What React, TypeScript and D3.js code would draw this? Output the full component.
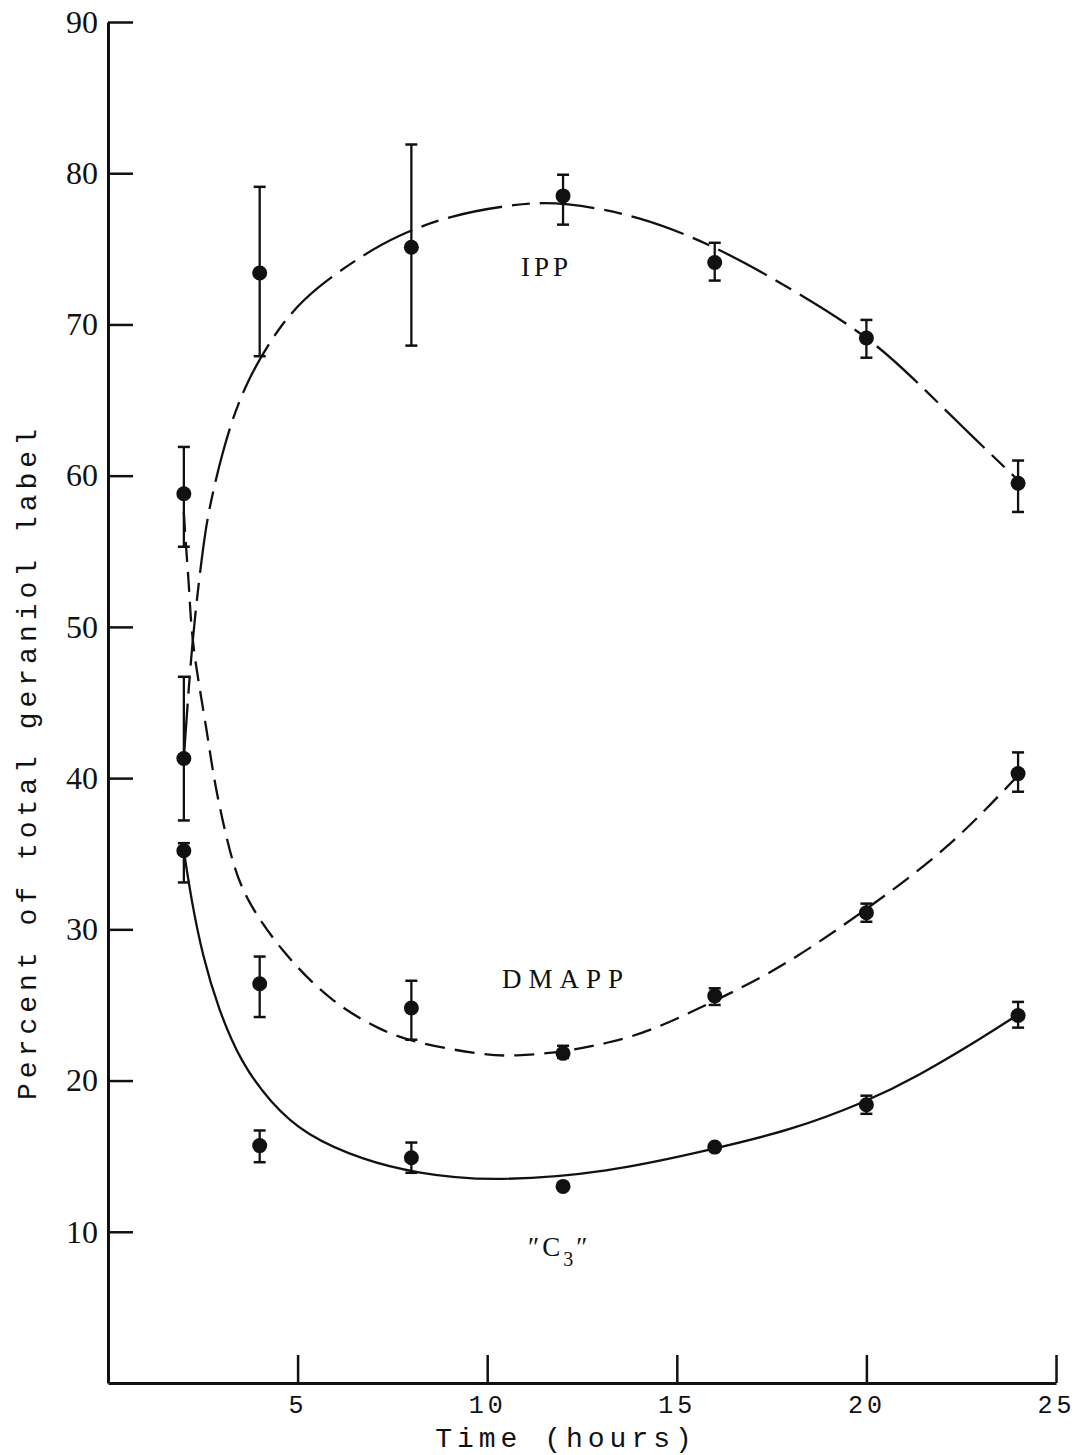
import React, { useEffect, useRef } from "react";
import * as d3 from "d3";

// sampling times (hours)
const hours = [2, 4, 8, 12, 16, 20, 24];

// measured points with error bars (percent of total geraniol label)
const ippMean = [41.3, 73.4, 75.1, 78.5, 74.1, 69.1, 59.5];
const ippLow = [37.2, 67.9, 68.6, 76.6, 72.9, 67.8, 57.6];
const ippHigh = [46.7, 79.1, 81.9, 79.9, 75.4, 70.3, 61.0];

const dmappMean = [58.8, 26.4, 24.8, 21.8, 25.6, 31.1, 40.3];
const dmappLow = [55.3, 24.2, 22.7, 21.5, 25.0, 30.5, 39.1];
const dmappHigh = [61.9, 28.2, 26.6, 22.3, 26.1, 31.7, 41.7];

const c3Mean = [35.2, 15.7, 14.9, 13.0, 15.6, 18.4, 24.3];
const c3Low = [33.1, 14.6, 13.9, 13.0, 15.6, 17.8, 23.5];
const c3High = [35.7, 16.7, 15.9, 13.0, 15.6, 19.0, 25.2];

// hand-drawn fitted curves
const ippCurveT = [2.0, 2.22, 2.49, 2.62, 3.0, 3.54, 4.55, 5.5, 6.8, 7.57, 8.97, 10.8, 12.0, 14.0, 16.0, 18.0, 20.0, 21.3, 22.5, 24.0];
const ippCurveV = [41.3, 49.3, 54.9, 57.3, 61.5, 65.8, 70.1, 72.5, 74.7, 75.8, 77.2, 78.0, 78.1, 77.2, 75.2, 72.4, 69.3, 66.3, 63.3, 59.7];

const dmappCurveT = [2.0, 2.04, 2.14, 2.17, 2.27, 2.62, 2.8, 3.23, 3.6, 4.55, 5.87, 7.2, 8.1, 9.85, 10.7, 12.06, 13.2, 14.26, 16.03, 17.8, 20.0, 22.2, 23.97];
const dmappCurveV = [57.6, 55.9, 52.6, 50.9, 48.0, 43.0, 39.7, 34.8, 32.1, 28.6, 25.2, 23.3, 22.5, 21.7, 21.6, 21.9, 22.5, 23.2, 25.3, 27.5, 31.3, 35.4, 40.1];

const c3CurveT = [2.0, 2.2, 2.5, 2.9, 3.5, 4.3, 5.2, 6.77, 8.1, 10.0, 13.2, 16.0, 18.0, 20.0, 21.3, 23.1, 23.9];
const c3CurveV = [35.2, 31.9, 28.2, 24.8, 21.2, 18.5, 16.4, 14.7, 13.9, 13.3, 13.9, 15.5, 16.7, 18.6, 20.2, 22.9, 24.2];

const xTicks = [5, 10, 15, 20, 25];
const yTicks = [10, 20, 30, 40, 50, 60, 70, 80, 90];

const ink = "#111";

const App = () => {
  const chartRef = useRef<SVGSVGElement>(null);

  useEffect(() => {
    drawChart();
  }, []);

  const drawChart = () => {
    const svg = d3.select(chartRef.current);
    svg.selectAll("*").remove();

    const x = d3.scaleLinear().domain([0, 25]).range([108, 1056]);
    const y = d3.scaleLinear().domain([0, 90]).range([1383, 22]);

    // y axis, ticks pointing inward
    const yAxis = svg
      .append("g")
      .attr("transform", "translate(108,0)")
      .call(d3.axisLeft(y).tickValues(yTicks).tickSize(-25).tickSizeOuter(0).tickPadding(10));
    yAxis.select(".domain").attr("stroke", ink).attr("stroke-width", 3);
    yAxis.selectAll(".tick line").attr("stroke", ink).attr("stroke-width", 2.5);
    yAxis
      .selectAll(".tick text")
      .attr("fill", ink)
      .attr("font-family", "'Liberation Serif', serif")
      .attr("font-size", 32);

    // x axis
    const xAxis = svg
      .append("g")
      .attr("transform", "translate(0,1383)")
      .call(d3.axisBottom(x).tickValues(xTicks).tickSize(-28).tickSizeOuter(0).tickPadding(12));
    xAxis.select(".domain").attr("stroke", ink).attr("stroke-width", 3);
    xAxis.selectAll(".tick line").attr("stroke", ink).attr("stroke-width", 2.5);
    xAxis
      .selectAll(".tick text")
      .attr("fill", ink)
      .attr("font-family", "'Liberation Mono', monospace")
      .attr("font-size", 25)
      .attr("letter-spacing", 4);

    // axis titles
    svg
      .append("text")
      .attr("x", 566)
      .attr("y", 1447)
      .attr("text-anchor", "middle")
      .attr("font-family", "'Liberation Mono', monospace")
      .attr("font-size", 28)
      .attr("letter-spacing", 5)
      .attr("fill", ink)
      .text("Time (hours)");

    svg
      .append("text")
      .attr("transform", "translate(36,762) rotate(-90)")
      .attr("text-anchor", "middle")
      .attr("font-family", "'Liberation Mono', monospace")
      .attr("font-size", 28)
      .attr("letter-spacing", 5)
      .attr("fill", ink)
      .text("Percent of total geraniol label");

    const line = d3
      .line<[number, number]>()
      .x((d) => x(d[0]))
      .y((d) => y(d[1]))
      .curve(d3.curveBasis);

    const curves = [
      { t: ippCurveT, v: ippCurveV, dash: "55,10,18,10" },
      { t: dmappCurveT, v: dmappCurveV, dash: "20,10" },
      { t: c3CurveT, v: c3CurveV, dash: null },
    ];

    curves.forEach((c) => {
      const pts = c.t.map((t, i) => [t, c.v[i]] as [number, number]);
      svg
        .append("path")
        .datum(pts)
        .attr("fill", "none")
        .attr("stroke", ink)
        .attr("stroke-width", 2.3)
        .attr("stroke-dasharray", c.dash)
        .attr("d", line);
    });

    const series = [
      { mean: ippMean, low: ippLow, high: ippHigh },
      { mean: dmappMean, low: dmappLow, high: dmappHigh },
      { mean: c3Mean, low: c3Low, high: c3High },
    ];

    series.forEach((s) => {
      const g = svg.append("g");
      hours.forEach((h, i) => {
        if (s.high[i] - s.low[i] > 0.01) {
          g.append("line")
            .attr("x1", x(h))
            .attr("x2", x(h))
            .attr("y1", y(s.low[i]))
            .attr("y2", y(s.high[i]))
            .attr("stroke", ink)
            .attr("stroke-width", 2.3);
          [s.low[i], s.high[i]].forEach((v) => {
            g.append("line")
              .attr("x1", x(h) - 6)
              .attr("x2", x(h) + 6)
              .attr("y1", y(v))
              .attr("y2", y(v))
              .attr("stroke", ink)
              .attr("stroke-width", 2.5);
          });
        }
        g.append("circle")
          .attr("cx", x(h))
          .attr("cy", y(s.mean[i]))
          .attr("r", 7.5)
          .attr("fill", ink);
      });
    });

    // curve labels
    const labelFont = "'Liberation Serif', serif";
    svg
      .append("text")
      .attr("x", 521)
      .attr("y", 276)
      .attr("font-family", labelFont)
      .attr("font-size", 27)
      .attr("letter-spacing", 4)
      .attr("fill", ink)
      .text("IPP");

    svg
      .append("text")
      .attr("x", 502)
      .attr("y", 988)
      .attr("font-family", labelFont)
      .attr("font-size", 27)
      .attr("letter-spacing", 7)
      .attr("fill", ink)
      .text("DMAPP");

    const c3 = svg
      .append("text")
      .attr("x", 528)
      .attr("y", 1256)
      .attr("font-family", labelFont)
      .attr("font-size", 27)
      .attr("letter-spacing", 3)
      .attr("fill", ink);
    c3.append("tspan").text("\u2033C");
    c3.append("tspan").attr("dy", 10).attr("font-size", 20).text("3");
    c3.append("tspan").attr("dy", -10).text("\u2033");
  };

  return (
    <div>
      <svg
        ref={chartRef}
        width={1077}
        height={1455}
        style={{ position: "absolute", left: 0, top: 0, background: "#fff" }}
      ></svg>
    </div>
  );
};

export default App;
